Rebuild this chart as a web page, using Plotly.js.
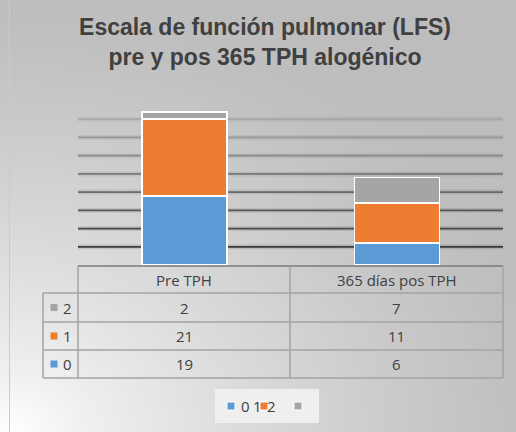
<!DOCTYPE html>
<html>
<head>
<meta charset="utf-8">
<script src="https://cdn.plot.ly/plotly-3.0.1.min.js"></script>
<style>
  html, body { margin: 0; padding: 0; background: #ffffff; }
  #wrap {
    position: relative; width: 516px; height: 432px; overflow: hidden;
    background: radial-gradient(ellipse 600px 470px at 10px 432px, #ffffff 0%, #f0f0f0 12%, #dedede 35%, #cdcdcd 60%, #bfbfbf 85%, #bdbdbd 100%);
  }
  #edge { position: absolute; left: 9px; top: 0; width: 1px; height: 432px; background: #cbcbcb; }
  #chart { position: absolute; left: 0; top: 0; width: 516px; height: 432px; }
</style>
</head>
<body>
<div id="wrap"><div id="edge"></div><div id="chart"></div></div>
<script>
// ---- data ----
const categories = ['Pre TPH', '365 días pos TPH'];
const seriesNames = ['0', '1', '2'];
const values0 = [19, 6];
const values1 = [21, 11];
const values2 = [2, 7];
const gridValues = [5, 10, 15, 20, 25, 30, 35, 40];
const titleText = 'Escala de función pulmonar (LFS)<br>pre y pos 365 TPH alogénico';

// ---- style ----
const seriesValues = [values0, values1, values2];
const seriesColors = ['#5b9bd5', '#ed7d31', '#a5a5a5'];
const textColor = '#404040';
const W = 516, H = 432;
const L = 78, R = 13, T = 101, B = 167;
const plotW = W - L - R, plotH = H - T - B;
const bottomPx = H - B;
const px = x => (x - L) / plotW;
const py = y => (bottomPx - y) / plotH;

const traces = seriesNames.map((name, i) => ({
  type: 'bar',
  name: name,
  x: categories,
  y: seriesValues[i],
  marker: { color: seriesColors[i], line: { color: '#ffffff', width: 1.5 } },
  hoverinfo: 'skip'
}));

const shapes = [];
// gridlines (blurred look, darker toward the bottom)
gridValues.forEach((v, i) => {
  const n = gridValues.length;
  const g = Math.round(58 + (i / (n - 1)) * 110);
  shapes.push({ type: 'line', layer: 'below', xref: 'paper', yref: 'y', x0: 0, x1: 1, y0: v, y1: v,
    line: { color: 'rgba(0,0,0,' + (0.10 - i * 0.008).toFixed(3) + ')', width: 5 } });
  shapes.push({ type: 'line', layer: 'below', xref: 'paper', yref: 'y', x0: 0, x1: 1, y0: v, y1: v,
    line: { color: 'rgb(' + g + ',' + g + ',' + g + ')', width: 1.8 } });
});

// data table
const tblLine = { color: '#a3a3a3', width: 1.5 };
const rowEdges = [266, 293, 322, 350, 378];
shapes.push({ type: 'line', layer: 'above', xref: 'paper', yref: 'paper', x0: px(78), x1: px(503), y0: py(266), y1: py(266), line: { color: '#7a7a7a', width: 1.5 } });
for (let r = 1; r < rowEdges.length; r++) {
  shapes.push({ type: 'line', layer: 'above', xref: 'paper', yref: 'paper', x0: px(43), x1: px(503), y0: py(rowEdges[r]), y1: py(rowEdges[r]), line: tblLine });
}
shapes.push({ type: 'line', layer: 'above', xref: 'paper', yref: 'paper', x0: px(43), x1: px(43), y0: py(293), y1: py(378), line: tblLine });
[78, 290, 503].forEach(c => shapes.push({ type: 'line', layer: 'above', xref: 'paper', yref: 'paper', x0: px(c), x1: px(c), y0: py(266), y1: py(378), line: tblLine }));

const annotations = [];
const tfont = { family: 'Open Sans, sans-serif', size: 15, color: textColor };
categories.forEach(c => annotations.push({ x: c, xref: 'x', y: py(279.5), yref: 'paper', text: c, showarrow: false, font: tfont, xanchor: 'center', yanchor: 'middle' }));
const rowCenters = [364, 336, 307.5]; // series 0,1,2
seriesNames.forEach((name, s) => {
  const yc = rowCenters[s];
  categories.forEach((c, ci) => annotations.push({ x: c, xref: 'x', y: py(yc), yref: 'paper', text: String(seriesValues[s][ci]), showarrow: false, font: tfont, xanchor: 'center', yanchor: 'middle' }));
  annotations.push({ x: px(74), xref: 'paper', y: py(yc), yref: 'paper', text: name, showarrow: false, font: tfont, xanchor: 'right', yanchor: 'middle' });
  shapes.push({ type: 'rect', layer: 'above', xref: 'paper', yref: 'paper', x0: px(50.5), x1: px(57.5), y0: py(yc - 3.5), y1: py(yc + 3.5), fillcolor: seriesColors[s], line: { width: 0 } });
});

// legend (bottom)
shapes.push({ type: 'rect', layer: 'above', xref: 'paper', yref: 'paper', x0: px(215), x1: px(319), y0: py(389), y1: py(423), fillcolor: '#efefef', line: { width: 0 } });
const legSq = [227, 260, 294];
const legTxt = [245, 257, 271.5];
seriesNames.forEach((name, s) => {
  shapes.push({ type: 'rect', layer: 'above', xref: 'paper', yref: 'paper', x0: px(legSq[s]), x1: px(legSq[s] + 8), y0: py(402), y1: py(410), fillcolor: seriesColors[s], line: { color: '#ffffff', width: 1 } });
  annotations.push({ x: px(legTxt[s]), xref: 'paper', y: py(406), yref: 'paper', text: name, showarrow: false, font: { family: 'Open Sans, sans-serif', size: 15, color: textColor }, xanchor: 'center', yanchor: 'middle' });
});

const layout = {
  width: W, height: H,
  margin: { l: L, r: R, t: T, b: B, pad: 0 },
  paper_bgcolor: 'rgba(0,0,0,0)',
  plot_bgcolor: 'rgba(0,0,0,0)',
  barmode: 'stack',
  bargap: 0.6,
  showlegend: false,
  title: {
    text: titleText,
    font: { family: 'Liberation Sans, Arial, sans-serif', size: 23, color: textColor, weight: 'bold' },
    x: 265 / W, xref: 'container', xanchor: 'center',
    y: 1 - 35 / H, yref: 'container', yanchor: 'top'
  },
  xaxis: { type: 'category', range: [-0.5, 1.5], showticklabels: false, showgrid: false, zeroline: false, showline: false, ticks: '' },
  yaxis: { range: [0, 45], showticklabels: false, showgrid: false, zeroline: false, showline: false, ticks: '' },
  shapes: shapes,
  annotations: annotations
};

Plotly.newPlot('chart', traces, layout, { displayModeBar: false, staticPlot: true });
</script>
</body>
</html>
